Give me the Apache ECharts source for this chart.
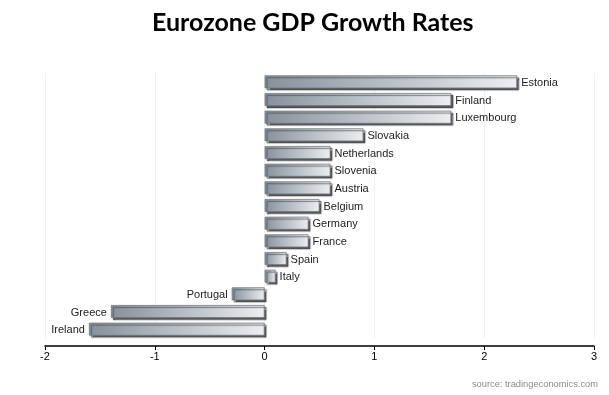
<!DOCTYPE html>
<html><head><meta charset="utf-8">
<script src="https://cdn.jsdelivr.net/npm/echarts@6/dist/echarts.min.js"></script>
<style>html,body{margin:0;padding:0;background:#fff}#c{width:609px;height:395px}</style>
</head><body><div id="c"></div>
<script>
const countries = ["Estonia","Finland","Luxembourg","Slovakia","Netherlands","Slovenia","Austria","Belgium","Germany","France","Spain","Italy","Portugal","Greece","Ireland"];
const growth = [2.3,1.7,1.7,0.9,0.6,0.6,0.6,0.5,0.4,0.4,0.2,0.1,-0.3,-1.4,-1.6];
const xTicks = [-2,-1,0,1,2,3];

const chart = echarts.init(document.getElementById('c'), null, {renderer:'canvas'});
const barStyle = {
  color: new echarts.graphic.LinearGradient(0,0,1,0,[
    {offset:0,color:'#87919c'},{offset:1,color:'#eceef0'}]),
  borderColor:'#737880', borderWidth:0.8,
  shadowColor:'rgba(70,70,70,0.9)', shadowOffsetX:2, shadowOffsetY:2, shadowBlur:1
};
chart.setOption({
  animation:false,
  title:{text:'Eurozone GDP Growth Rates', left:152, top:10, padding:0,
    textStyle:{fontFamily:'Lato', fontWeight:'bold', fontSize:25, color:'#000'}},
  graphic:[{type:'text', right:11, top:380, style:{text:'source: tradingeconomics.com', fill:'#8a8a8a', font:'9.3px "Liberation Sans", Arial'}}],
  grid:{left:45, right:15, top:73, bottom:57, containLabel:false},
  xAxis:{type:'value', min:xTicks[0], max:xTicks[xTicks.length-1], interval:1, offset:8,
    axisLine:{show:true, lineStyle:{color:'#000', width:1.5}},
    axisTick:{show:true, length:4, lineStyle:{color:'#000'}},
    axisLabel:{color:'#000', fontSize:11, fontFamily:'Liberation Sans', margin:5},
    splitLine:{show:true, lineStyle:{color:'#f0f0f0'}}},
  yAxis:{type:'category', data:countries, inverse:true,
    axisLine:{show:false}, axisTick:{show:false}, axisLabel:{show:false}, splitLine:{show:false}},
  series:[{type:'bar', barWidth:13,
    data:growth.map(v=>({value:v, label:{position: v<0?'left':'right'}})),
    itemStyle:barStyle,
    label:{show:true, formatter:p=>countries[p.dataIndex], color:'#222', fontSize:11, fontFamily:'Liberation Sans', distance:4, offset:[0,1]}
  }]
});
</script></body></html>
